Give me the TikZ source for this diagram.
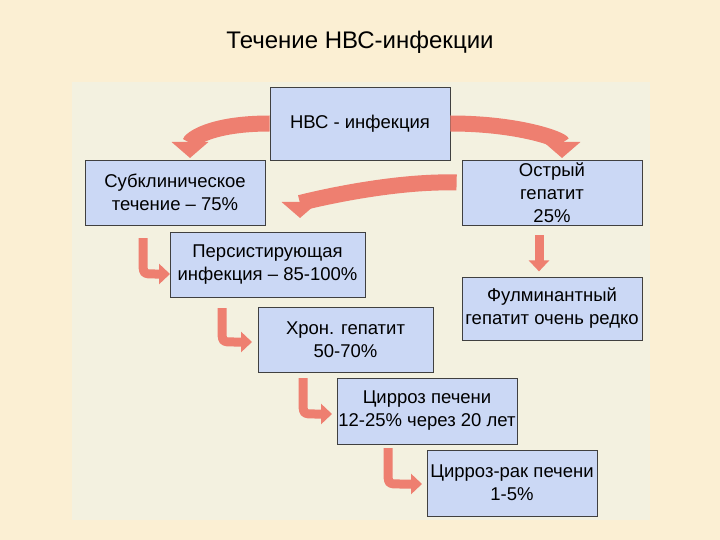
\documentclass[tikz,border=0pt]{standalone}
\usepackage{fontspec}
\setmainfont{Liberation Sans}
\usetikzlibrary{arrows.meta}
\definecolor{outerbg}{HTML}{FBEFD3}
\definecolor{innerbg}{HTML}{F3F1E0}
\definecolor{boxfill}{HTML}{CBD8F5}
\definecolor{arr}{HTML}{EE7F70}
\definecolor{arrsh}{HTML}{A85048}
\tikzset{
 box/.style={draw=black!75,fill=boxfill,line width=0.8pt,align=center,font=\fontsize{18.5}{23}\selectfont,inner sep=0pt},
 bigarr/.style={line width=16pt,arr,-{Triangle[width=36pt,length=16pt]}},
 smallarr/.style={line width=9pt,arr,-{Triangle[width=20pt,length=11pt]}},
}
\begin{document}
\begin{tikzpicture}[x=1pt,y=-1pt]
\fill[outerbg] (0,0) rectangle (720,540);
\fill[innerbg] (72,82) rectangle (650,520);
\node[font=\fontsize{24}{28}\selectfont] (title) at (360,42) {Течение НВС-инфекции};
\node[box,minimum width=180pt,minimum height=73pt] (hbc) at (360,123.5) {НВС - инфекция};
\node[box,minimum width=180pt,minimum height=65pt] (sub) at (175,192.5) {Субклиническое\\течение – 75\%};
\node[box,minimum width=180pt,minimum height=65pt] (ost) at (552,192.5) {Острый\\гепатит\\25\%};
\node[box,minimum width=195pt,minimum height=65pt] (per) at (267.5,264.5) {Персистирующая\\инфекция – 85-100\%};
\node[box,minimum width=180pt,minimum height=63pt] (ful) at (552,308.5) {Фулминантный\\гепатит очень редко};
\node[box,minimum width=175pt,minimum height=65pt] (chr) at (345.5,339.5) {Хрон. гепатит\\50-70\%};
\node[box,minimum width=180pt,minimum height=66pt] (cir) at (427,411) {Цирроз печени\\12-25\% через 20 лет};
\node[box,minimum width=170pt,minimum height=66pt] (can) at (512,483) {Цирроз-рак печени\\1-5\%};
% curved arrows
\draw[bigarr] (hbc.west) ++(0,0) .. controls +(-60,0) and +(0,-18) .. (190,158);
\draw[bigarr] (hbc.east) ++(0,0) .. controls +(70,0) and +(0,-18) .. (562,158);
\draw[bigarr] (ost.west) ++(-5,-10) .. controls +(-70,-2) and +(0,-15) .. (300,218);
% hooks
\draw[smallarr] (143,238) -- (143,260) .. controls (143,274) .. (155,274) -- (170,274);
\draw[smallarr] (222,308) -- (222,328) .. controls (222,342) .. (234,342) -- (252,342);
\draw[smallarr] (303,378) -- (303,400) .. controls (303,414) .. (315,414) -- (332,414);
\draw[smallarr] (388,448) -- (388,470) .. controls (388,484) .. (400,484) -- (422,484);
\draw[smallarr] (ost.south) ++(-13,10) -- ++(0,36);
\end{tikzpicture}
\end{document}
